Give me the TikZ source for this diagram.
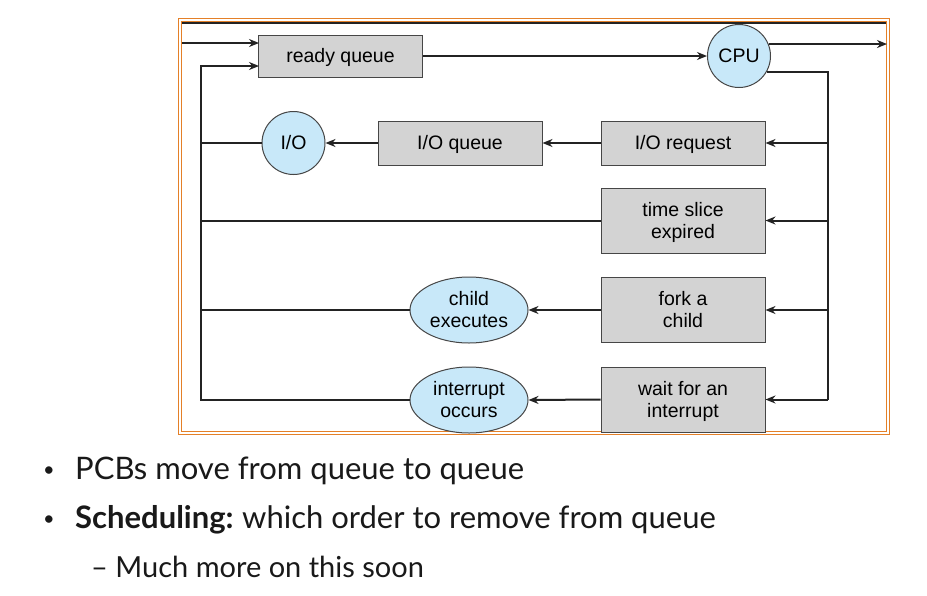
\documentclass[tikz,border=0pt]{standalone}
\usepackage{fontspec}
\setmainfont{Liberation Sans}
\newfontfamily\bulletfont{Lato}
\usetikzlibrary{arrows.meta,shapes.geometric,calc}
\definecolor{boxfill}{RGB}{211,211,211}
\definecolor{boxline}{RGB}{70,70,70}
\definecolor{circfill}{RGB}{200,232,249}
\definecolor{frameor}{RGB}{228,128,40}
\definecolor{linec}{RGB}{35,35,35}
\newcommand\lbl[1]{\raisebox{-2.5pt}[\height][\depth]{\begin{tabular}{@{}c@{}}#1\end{tabular}}}
\begin{document}
\begin{tikzpicture}[x=1pt,y=-1pt,
  qbox/.style={draw=boxline,fill=boxfill,line width=1pt,minimum width=164pt,inner sep=0pt,font=\fontsize{19.5}{22}\selectfont},
  qcirc/.style={circle,draw=boxline,fill=circfill,line width=1pt,minimum size=63pt,inner sep=0pt,font=\fontsize{19.5}{22}\selectfont},
  qell/.style={ellipse,draw=boxline,fill=circfill,line width=1pt,minimum width=118pt,minimum height=66pt,inner sep=0pt,font=\fontsize{19.5}{22}\selectfont},
  conn/.style={draw=linec,line width=2pt},
  arr/.style={conn,-{Stealth[length=10pt,width=8pt]}},
  btext/.style={anchor=base west,inner sep=0pt,text=black!90,font=\bulletfont\fontsize{31}{36}\selectfont},
  bdot/.style={anchor=base west,inner sep=0pt,text=black!90,font=\bulletfont\fontsize{20}{24}\selectfont}]
\useasboundingbox (0,0) rectangle (927,595);
\fill[white] (0,0) rectangle (927,595);
% frame
\draw[frameor,line width=1.3pt] (178.5,18.5) rectangle (889.5,434.5);
\draw[frameor,line width=0.9pt] (181.5,21.5) rectangle (886.5,431.5);
\draw[linec,line width=1.8pt] (182,23) -- (886,23);
% nodes
\node[qbox,minimum height=42pt] (rq) at (340.5,56) {\lbl{ready queue}};
\node[qcirc] (cpu) at (739,56) {\lbl{CPU}};
\node[qbox,minimum height=44pt] (iorq) at (683,143) {\lbl{I/O request}};
\node[qbox,minimum height=44pt] (ioq) at (460,143) {\lbl{I/O queue}};
\node[qcirc] (io) at (293.5,143) {\lbl{I/O}};
\node[qbox,minimum height=65pt] (ts) at (683,220.5) {\lbl{time slice\\expired}};
\node[qbox,minimum height=65pt] (fork) at (683,310) {\lbl{fork a\\child}};
\node[qbox,minimum height=65pt] (wait) at (683,399.5) {\lbl{wait for an\\interrupt}};
\node[qell] (ce) at (469,310) {\lbl{child\\executes}};
\node[qell] (ic) at (469,400) {\lbl{interrupt\\occurs}};
% coordinates
\coordinate (entry) at (182,43);
\coordinate (rqin1) at (259,43);
\coordinate (rqin2) at (259,66);
\coordinate (exit) at (887,44);
\coordinate (busx) at (828,0);
\coordinate (lx) at (201,0);
% top arrows
\draw[arr] (entry) -- (rqin1);
\draw[arr] (rq.east) -- (cpu.west);
\draw[arr] (cpu.22) -- (cpu.22 -| exit);
% bus on right
\draw[conn] (cpu.-30.5) -- (cpu.-30.5 -| busx) -- (wait.east -| busx);
\draw[arr] (iorq.east -| busx) -- (iorq.east);
\draw[arr] (ts.east -| busx) -- (ts.east);
\draw[arr] (fork.east -| busx) -- (fork.east);
\draw[arr] (wait.east -| busx) -- (wait.east);
% middle arrows
\draw[arr] (iorq.west) -- (ioq.east);
\draw[arr] (ioq.west) -- (io.east);
\draw[arr] (fork.west) -- (ce.east);
\draw[arr] (wait.west) -- (ic.east);
% left return lines
\draw[arr] (ic.west) -- (ic.west -| lx) -- (lx |- rqin2) -- (rqin2);
\draw[conn] (ce.west) -- (ce.west -| lx);
\draw[conn] (ts.west) -- (ts.west -| lx);
\draw[conn] (io.west) -- (io.west -| lx);
% bullets
\node[bdot] (b1) at (43,476) {\textbullet};
\node[btext] (t1) at (75,479.5) {PCBs move from queue to queue};
\node[bdot] (b2) at (43,525) {\textbullet};
\node[btext] (t2) at (75,528) {\textbf{Scheduling:}\hspace{-2pt} which order to remove from queue};
\node[btext,font=\bulletfont\fontsize{29}{34}\selectfont] (t3) at (91,577) {– Much more on this soon};
\end{tikzpicture}
\end{document}
